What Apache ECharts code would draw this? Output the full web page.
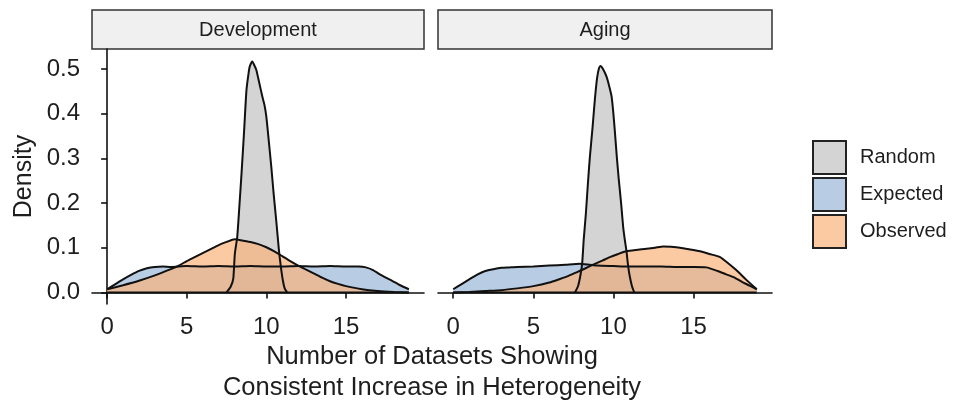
<!DOCTYPE html>
<html><head><meta charset="utf-8">
<script src="https://cdn.jsdelivr.net/npm/echarts@6/dist/echarts.min.js"></script>
<style>html,body{margin:0;padding:0;background:#fff}#c{width:955px;height:400px}</style>
</head><body><div id="c"></div>
<script>
// ---- data (x = number of datasets, y = density) ----
const panels = ['Development', 'Aging'];
const seriesNames = ['Random', 'Expected', 'Observed'];
const xTicks = [0, 5, 10, 15];
const yTicks = [0, 0.1, 0.2, 0.3, 0.4, 0.5];

const devRandom = [[7.5,0],[7.75,0.012],[7.92,0.03],[8.02,0.086],[8.17,0.124],[8.3,0.19],[8.44,0.266],[8.6,0.36],[8.75,0.453],[8.88,0.49],[8.96,0.506],[9.12,0.517],[9.25,0.508],[9.37,0.498],[9.55,0.47],[9.75,0.438],[9.88,0.42],[10.0,0.393],[10.15,0.34],[10.31,0.281],[10.46,0.22],[10.62,0.161],[10.79,0.094],[10.92,0.055],[11.04,0.026],[11.15,0.009],[11.3,0]];
const devExpected = [[0,0.007],[0.5,0.018],[1,0.029],[1.5,0.039],[2,0.048],[2.5,0.054],[3,0.057],[3.5,0.058],[4,0.057],[5,0.059],[6,0.058],[7,0.059],[8,0.058],[9,0.059],[10,0.058],[11,0.058],[12,0.059],[13,0.058],[14,0.059],[15,0.058],[15.8,0.058],[16.25,0.056],[16.7,0.05],[17.1,0.041],[17.5,0.033],[17.9,0.026],[18.4,0.016],[18.95,0.007]];
const devObserved = [[0,0.007],[1,0.016],[2,0.026],[3,0.038],[4,0.052],[4.5,0.06],[5,0.07],[5.5,0.079],[6,0.088],[6.5,0.097],[7,0.106],[7.5,0.113],[8,0.119],[8.5,0.116],[9,0.113],[9.5,0.108],[10,0.101],[10.5,0.092],[11,0.081],[11.5,0.07],[12,0.06],[12.5,0.051],[13,0.042],[13.5,0.033],[14,0.025],[14.5,0.019],[15,0.014],[16,0.007],[17,0.003],[18,0.001],[18.95,0]];

const agingRandom = [[7.6,0],[7.8,0.015],[7.95,0.04],[8.05,0.065],[8.15,0.12],[8.28,0.176],[8.4,0.24],[8.53,0.303],[8.7,0.37],[8.84,0.431],[8.98,0.48],[9.1,0.502],[9.2,0.507],[9.35,0.5],[9.57,0.483],[9.75,0.46],[9.89,0.438],[10.0,0.4],[10.1,0.356],[10.22,0.3],[10.34,0.251],[10.48,0.2],[10.61,0.146],[10.71,0.118],[10.81,0.094],[10.9,0.065],[11.0,0.04],[11.15,0.015],[11.3,0]];
const agingExpected = [[0,0.007],[0.5,0.018],[1,0.029],[1.5,0.04],[2,0.048],[2.5,0.052],[3,0.055],[3.5,0.056],[4,0.057],[5,0.058],[6,0.06],[7,0.062],[7.9,0.064],[8.5,0.062],[9,0.06],[10,0.059],[11,0.058],[12,0.058],[13,0.058],[14,0.057],[15,0.057],[15.8,0.056],[16.5,0.048],[17,0.041],[17.5,0.034],[18,0.024],[18.5,0.015],[18.95,0.007]];
const agingObserved = [[0,0],[1,0.001],[2,0.003],[3,0.005],[4,0.009],[5,0.014],[6,0.022],[6.66,0.03],[7.2,0.037],[7.7,0.045],[8.2,0.053],[8.74,0.062],[9.3,0.071],[9.78,0.079],[10.3,0.086],[10.81,0.092],[11.4,0.095],[12.07,0.0975],[12.6,0.1],[13.1,0.103],[13.6,0.102],[14.16,0.1],[14.8,0.096],[15.4,0.092],[16,0.086],[16.66,0.079],[17.2,0.064],[17.7,0.049],[18.3,0.028],[18.95,0.007]];

const panelData = [
  [devRandom, devExpected, devObserved],
  [agingRandom, agingExpected, agingObserved]
];

// ---- styling ----
const FONT = 'Liberation Sans, Arial, sans-serif';
const fills = ['#c2c2c2', '#9ab8d7', '#f9b37c'];
const legendFills = ['#d4d4d4', '#b8cde3', '#fbcaa3'];
const INK = '#111';
const TXT = '#1e1e1e';

const grids = [
  {left: 92, top: 49, width: 332, height: 255},
  {left: 438, top: 49, width: 334, height: 255}
];

const xAxes = grids.map((g, i) => ({
  type: 'value', gridIndex: i, min: -0.95, max: 19.9,
  splitLine: {show: false},
  axisLine: {show: true, lineStyle: {color: INK, width: 1.6}},
  axisTick: {show: true, length: 6, customValues: xTicks, lineStyle: {color: INK, width: 1.6}},
  axisLabel: {show: true, customValues: xTicks, fontSize: 24, color: TXT, fontFamily: FONT, margin: 11}
}));

const yAxes = grids.map((g, i) => ({
  type: 'value', gridIndex: i, min: -0.026, max: 0.545,
  splitLine: {show: false},
  name: i === 0 ? 'Density' : '',
  nameLocation: 'middle', nameGap: 55,
  nameTextStyle: {fontSize: 25, color: TXT, fontFamily: FONT},
  axisLine: {show: i === 0, lineStyle: {color: INK, width: 1.6}},
  axisTick: {show: i === 0, length: 6, customValues: yTicks, lineStyle: {color: INK, width: 1.6}},
  axisLabel: {show: i === 0, customValues: yTicks, fontSize: 24, color: TXT, fontFamily: FONT, margin: 12,
    formatter: v => v.toFixed(1)}
}));

const series = [];
panelData.forEach((sets, p) => {
  sets.forEach((d, k) => {
    series.push({
      type: 'line', name: seriesNames[k], xAxisIndex: p, yAxisIndex: p,
      data: d, symbol: 'none', smooth: 0.2,
      lineStyle: {color: INK, width: 2},
      itemStyle: {color: legendFills[k]},
      areaStyle: {color: fills[k], opacity: 0.7}
    });
  });
  // baseline of the density polygons
  const lo = Math.min(...sets.map(s => s[0][0]));
  const hi = Math.max(...sets.map(s => s[s.length - 1][0]));
  series.push({
    type: 'line', xAxisIndex: p, yAxisIndex: p, symbol: 'none',
    data: [[lo, 0], [hi, 0]], lineStyle: {color: INK, width: 2}, silent: true
  });
});

const graphic = [];
panels.forEach((name, i) => {
  const g = grids[i];
  graphic.push({type: 'rect', shape: {x: g.left, y: 10, width: g.width, height: 39},
    style: {fill: '#f0f0f0', stroke: '#333', lineWidth: 1.5}});
  graphic.push({type: 'text', x: g.left + g.width / 2, y: 30,
    style: {text: name, font: '20px ' + FONT, fill: TXT, textAlign: 'center', textVerticalAlign: 'middle'}});
});
graphic.push({type: 'text', x: 432, y: 372,
  style: {text: 'Number of Datasets Showing\nConsistent Increase in Heterogeneity', font: '25.5px ' + FONT,
    fill: TXT, textAlign: 'center', textVerticalAlign: 'middle', lineHeight: 31}});

const chart = echarts.init(document.getElementById('c'), null, {renderer: 'canvas'});
chart.setOption({
  animation: false,
  textStyle: {fontFamily: FONT},
  grid: grids,
  xAxis: xAxes,
  yAxis: yAxes,
  legend: {
    orient: 'vertical', left: 807, top: 135, icon: 'rect',
    itemWidth: 33, itemHeight: 33, itemGap: 2,
    textStyle: {fontSize: 20, color: TXT, fontFamily: FONT, padding: [0, 0, 0, 9]},
    data: seriesNames.map((n, k) => ({name: n, icon: 'rect',
      itemStyle: {color: legendFills[k], borderColor: '#222', borderWidth: 2, opacity: 1}}))
  },
  series: series,
  graphic: graphic
});
</script></body></html>
